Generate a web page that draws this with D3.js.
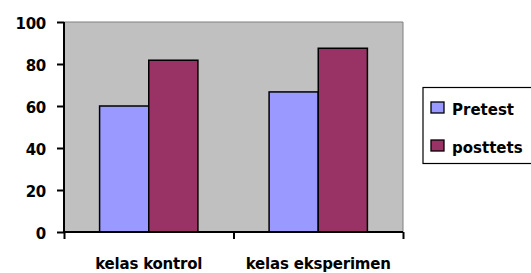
<!DOCTYPE html>
<html><head><meta charset="utf-8">
<script src="https://cdn.jsdelivr.net/npm/d3@7"></script>
<style>body{margin:0;background:#fff;} svg{display:block;font-family:"DejaVu Sans",sans-serif;font-weight:bold;}</style>
</head><body>
<svg id="c" width="531" height="273"></svg>
<script>
const categories = ["kelas kontrol", "kelas eksperimen"];
const seriesNames = ["Pretest", "posttets"];
const pretest = [60, 66.7];
const posttets = [81.8, 87.5];
const yTicks = [0, 20, 40, 60, 80, 100];
const colors = ["#9999FF", "#993366"];

const svg = d3.select("#c");
const L = 64, R = 403, T = 22, B = 232;
const x = d3.scaleBand().domain(categories).range([L, R]).paddingInner(0.42).paddingOuter(0.21);
const xs = d3.scaleBand().domain(seriesNames).range([0, x.bandwidth()]);
const y = d3.scaleLinear().domain([0, 100]).range([B, T]);

svg.append("rect").attr("x", L).attr("y", T).attr("width", R - L).attr("height", B - T).attr("fill", "#C0C0C0");
svg.append("path").attr("d", `M${L},${T}H${R}V${B}`).attr("fill", "none").attr("stroke", "#808080").attr("stroke-width", 1);

const data = categories.map((c, i) => ({c, vals: [pretest[i], posttets[i]]}));
const g = svg.append("g");
data.forEach(d => {
  d.vals.forEach((v, j) => {
    g.append("rect")
      .attr("x", x(d.c) + xs(seriesNames[j]))
      .attr("y", y(v))
      .attr("width", xs.bandwidth())
      .attr("height", y(0) - y(v))
      .attr("fill", colors[j]).attr("stroke", "#000").attr("stroke-width", 1.5);
  });
});

const yAxis = svg.append("g").attr("transform", `translate(${L},0)`)
  .call(d3.axisLeft(y).tickValues(yTicks).tickSize(7).tickPadding(11));
yAxis.selectAll("text").attr("font-size", 15).attr("font-weight", "bold").attr("fill", "#000")
  .attr("font-family", "DejaVu Sans").attr("dy", "0.4em").attr("letter-spacing", -0.3);
yAxis.selectAll("line,path").attr("stroke", "#000").attr("stroke-width", 2);
yAxis.select(".domain").attr("d", `M0,${T}V${B}`);

const xEdge = d3.scaleLinear().domain([0, categories.length]).range([L, R]);
const xAxis = svg.append("g").attr("transform", `translate(0,${B})`)
  .call(d3.axisBottom(xEdge).tickValues(d3.range(categories.length + 1)).tickSize(7).tickFormat(""));
xAxis.selectAll("line,path").attr("stroke", "#000").attr("stroke-width", 2);
xAxis.select(".domain").attr("d", `M${L},0H${R}`);

svg.append("g").selectAll("text").data(categories).join("text")
  .attr("x", d => x(d) + x.bandwidth() / 2).attr("y", 269)
  .attr("text-anchor", "middle").attr("font-size", 15).attr("letter-spacing", -0.2).text(d => d);

const lg = svg.append("g");
lg.append("rect").attr("x", 423).attr("y", 87.5).attr("width", 115).attr("height", 76)
  .attr("fill", "#fff").attr("stroke", "#000").attr("stroke-width", 1.2);
seriesNames.forEach((s, i) => {
  lg.append("rect").attr("x", 431).attr("y", 102 + i * 38).attr("width", 13).attr("height", 11)
    .attr("fill", colors[i]).attr("stroke", "#000").attr("stroke-width", 1.3);
  lg.append("text").attr("x", 452).attr("y", 115 + i * 38).attr("font-size", 15).text(s);
});
</script>
</body></html>
